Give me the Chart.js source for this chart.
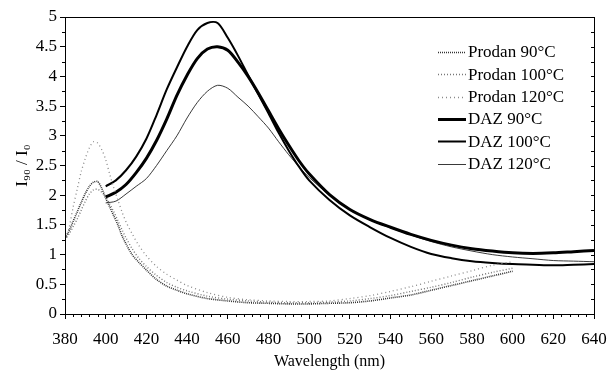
<!DOCTYPE html>
<html><head><meta charset="utf-8">
<script src="https://cdn.jsdelivr.net/npm/chart.js@4/dist/chart.umd.min.js"></script>
<style>html,body{margin:0;padding:0;background:#fff}#c{display:block}</style>
</head><body>
<canvas id="c" width="609" height="371"></canvas>
<script>
// Prodan series (wavelength nm, intensity ratio)
const prodanWl = [380,382,384,386,388,390,392,394,396,398,400,402,404,406,408,410,413,416,420,425,430,435,440,450,460,470,480,490,500,510,520,530,540,550,560,570,580,590,600];
const prodan90 = [1.28,1.40,1.56,1.72,1.88,2.03,2.15,2.22,2.23,2.12,1.95,1.80,1.65,1.50,1.32,1.18,1.00,0.88,0.74,0.58,0.47,0.40,0.34,0.26,0.22,0.19,0.18,0.17,0.17,0.18,0.19,0.22,0.27,0.32,0.40,0.48,0.56,0.64,0.72];
const prodan100 = [1.25,1.35,1.47,1.60,1.75,1.90,2.02,2.09,2.10,2.05,1.97,1.85,1.72,1.57,1.42,1.28,1.10,0.95,0.80,0.65,0.53,0.45,0.39,0.30,0.25,0.22,0.20,0.19,0.19,0.20,0.22,0.26,0.31,0.38,0.45,0.53,0.62,0.70,0.77];
const prodan120 = [1.22,1.45,1.80,2.10,2.40,2.62,2.80,2.90,2.88,2.77,2.60,2.35,2.12,1.92,1.72,1.55,1.35,1.17,0.98,0.80,0.67,0.57,0.48,0.36,0.28,0.24,0.22,0.21,0.21,0.22,0.26,0.31,0.38,0.46,0.55,0.64,0.73,0.82,0.88];
// DAZ series
const dazWl = [400,405,410,415,420,425,430,435,440,445,450,455,460,465,470,475,480,485,490,495,500,510,520,530,540,550,560,570,580,590,600,610,620,630,640];
const daz90 = [1.97,2.05,2.18,2.38,2.62,2.92,3.28,3.68,4.02,4.30,4.46,4.50,4.44,4.24,4.00,3.72,3.42,3.12,2.84,2.58,2.36,2.01,1.76,1.59,1.46,1.34,1.24,1.16,1.10,1.06,1.03,1.02,1.03,1.05,1.07];
const daz100 = [2.15,2.25,2.42,2.65,2.95,3.35,3.78,4.15,4.50,4.78,4.90,4.90,4.65,4.35,4.02,3.70,3.38,3.05,2.75,2.48,2.25,1.92,1.66,1.46,1.28,1.13,1.01,0.94,0.89,0.86,0.84,0.83,0.82,0.83,0.84];
const daz120 = [1.87,1.90,2.02,2.15,2.28,2.50,2.75,3.00,3.30,3.56,3.75,3.85,3.80,3.65,3.50,3.32,3.13,2.90,2.68,2.48,2.30,2.00,1.76,1.58,1.45,1.33,1.22,1.13,1.06,1.00,0.96,0.93,0.90,0.89,0.88];
const seriesNames = ['Prodan 90°C','Prodan 100°C','Prodan 120°C','DAZ 90°C','DAZ 100°C','DAZ 120°C'];
const xTicks = [380,400,420,440,460,480,500,520,540,560,580,600,620,640];

const pts = (xs, ys) => xs.map((x, i) => ({x, y: ys[i]}));
const styles = [
  {color:'#333', width:1.6, dash:[1,1]},
  {color:'#777', width:1.4, dash:[1,2]},
  {color:'#8a8a8a', width:1.3, dash:[1,3]},
  {color:'#000', width:3, dash:[]},
  {color:'#000', width:2, dash:[]},
  {color:'#222', width:0.9, dash:[]}
];
const dataArr = [pts(prodanWl,prodan90),pts(prodanWl,prodan100),pts(prodanWl,prodan120),pts(dazWl,daz90),pts(dazWl,daz100),pts(dazWl,daz120)];
const datasets = dataArr.map((d,i)=>({
  label: seriesNames[i], data: d, borderColor: styles[i].color, borderWidth: styles[i].width,
  borderDash: styles[i].dash, pointRadius: 0, fill: false, tension: 0.3
}));

const FONT = 'Liberation Serif, Times New Roman, serif';

const extras = {
  id: 'extras',
  afterDraw(chart) {
    const ctx = chart.ctx, a = chart.chartArea, xs = chart.scales.x, ys = chart.scales.y;
    ctx.save();
    ctx.strokeStyle = '#000'; ctx.lineWidth = 1;
    ctx.strokeRect(Math.round(a.left)+0.5, Math.round(a.top)+0.5, Math.round(a.right-a.left), Math.round(a.bottom-a.top));
    ctx.beginPath();
    for (let v = 380; v <= 640; v += 4) {
      if ((v - 380) % 20 === 0) continue;
      const px = Math.round(xs.getPixelForValue(v)) + 0.5;
      ctx.moveTo(px, a.bottom); ctx.lineTo(px, a.bottom + 3);
    }
    for (let v = 0.25; v < 5; v += 0.5) {
      const py = Math.round(ys.getPixelForValue(v)) + 0.5;
      ctx.moveTo(a.left, py); ctx.lineTo(a.left - 3, py);
    }
    for (let v = 0.25; v < 5; v += 0.25) {
      const py = Math.round(ys.getPixelForValue(v)) + 0.5;
      ctx.moveTo(a.right, py); ctx.lineTo(a.right - 3, py);
    }
    ctx.stroke();
    // legend
    ctx.font = '17px ' + FONT; ctx.fillStyle = '#000'; ctx.textBaseline = 'middle';
    seriesNames.forEach((n, i) => {
      const y = 52 + i * 22.3;
      ctx.beginPath();
      ctx.strokeStyle = styles[i].color; ctx.lineWidth = styles[i].width; ctx.setLineDash(styles[i].dash);
      ctx.moveTo(438, Math.round(y)+0.5); ctx.lineTo(466, Math.round(y)+0.5); ctx.stroke();
      ctx.setLineDash([]);
      ctx.fillText(n, 468, y + 1);
    });
    ctx.restore();
  }
};

new Chart(document.getElementById('c'), {
  type: 'line',
  data: { datasets },
  options: {
    responsive: false, animation: false, devicePixelRatio: 1,
    layout: { padding: { top: 17, right: 15, left: 0, bottom: 0 } },
    plugins: { legend: { display: false }, tooltip: { enabled: false } },
    scales: {
      x: {
        type: 'linear', min: 380, max: 640,
        afterBuildTicks: s => { s.ticks = xTicks.map(v => ({value: v})); },
        afterFit: s => { s.height = 57; s.paddingLeft = 0; s.paddingRight = 0; },
        ticks: { color: '#000', font: { family: FONT, size: 17 }, padding: 10, maxRotation: 0 },
        grid: { drawOnChartArea: false, color: '#000', tickLength: 5 },
        border: { color: '#000', width: 1 },
        title: { display: true, text: 'Wavelength (nm)', color: '#000', font: { family: FONT, size: 16 }, padding: { top: 4, bottom: 0 } }
      },
      y: {
        min: 0, max: 5,
        afterFit: s => { s.width = 65; s.paddingTop = 0; s.paddingBottom = 0; },
        ticks: { stepSize: 0.5, color: '#000', font: { family: FONT, size: 17 }, padding: 3,
                 callback: v => Number.isInteger(v) ? String(v) : v.toFixed(1) },
        grid: { drawOnChartArea: false, color: '#000', tickLength: 5 },
        border: { color: '#000', width: 1 },
        title: { display: true, text: 'I₉₀ / I₀', color: '#000', font: { family: FONT, size: 17 }, padding: { top: 12, bottom: 0 } }
      }
    }
  },
  plugins: [extras]
});
</script>
</body></html>
